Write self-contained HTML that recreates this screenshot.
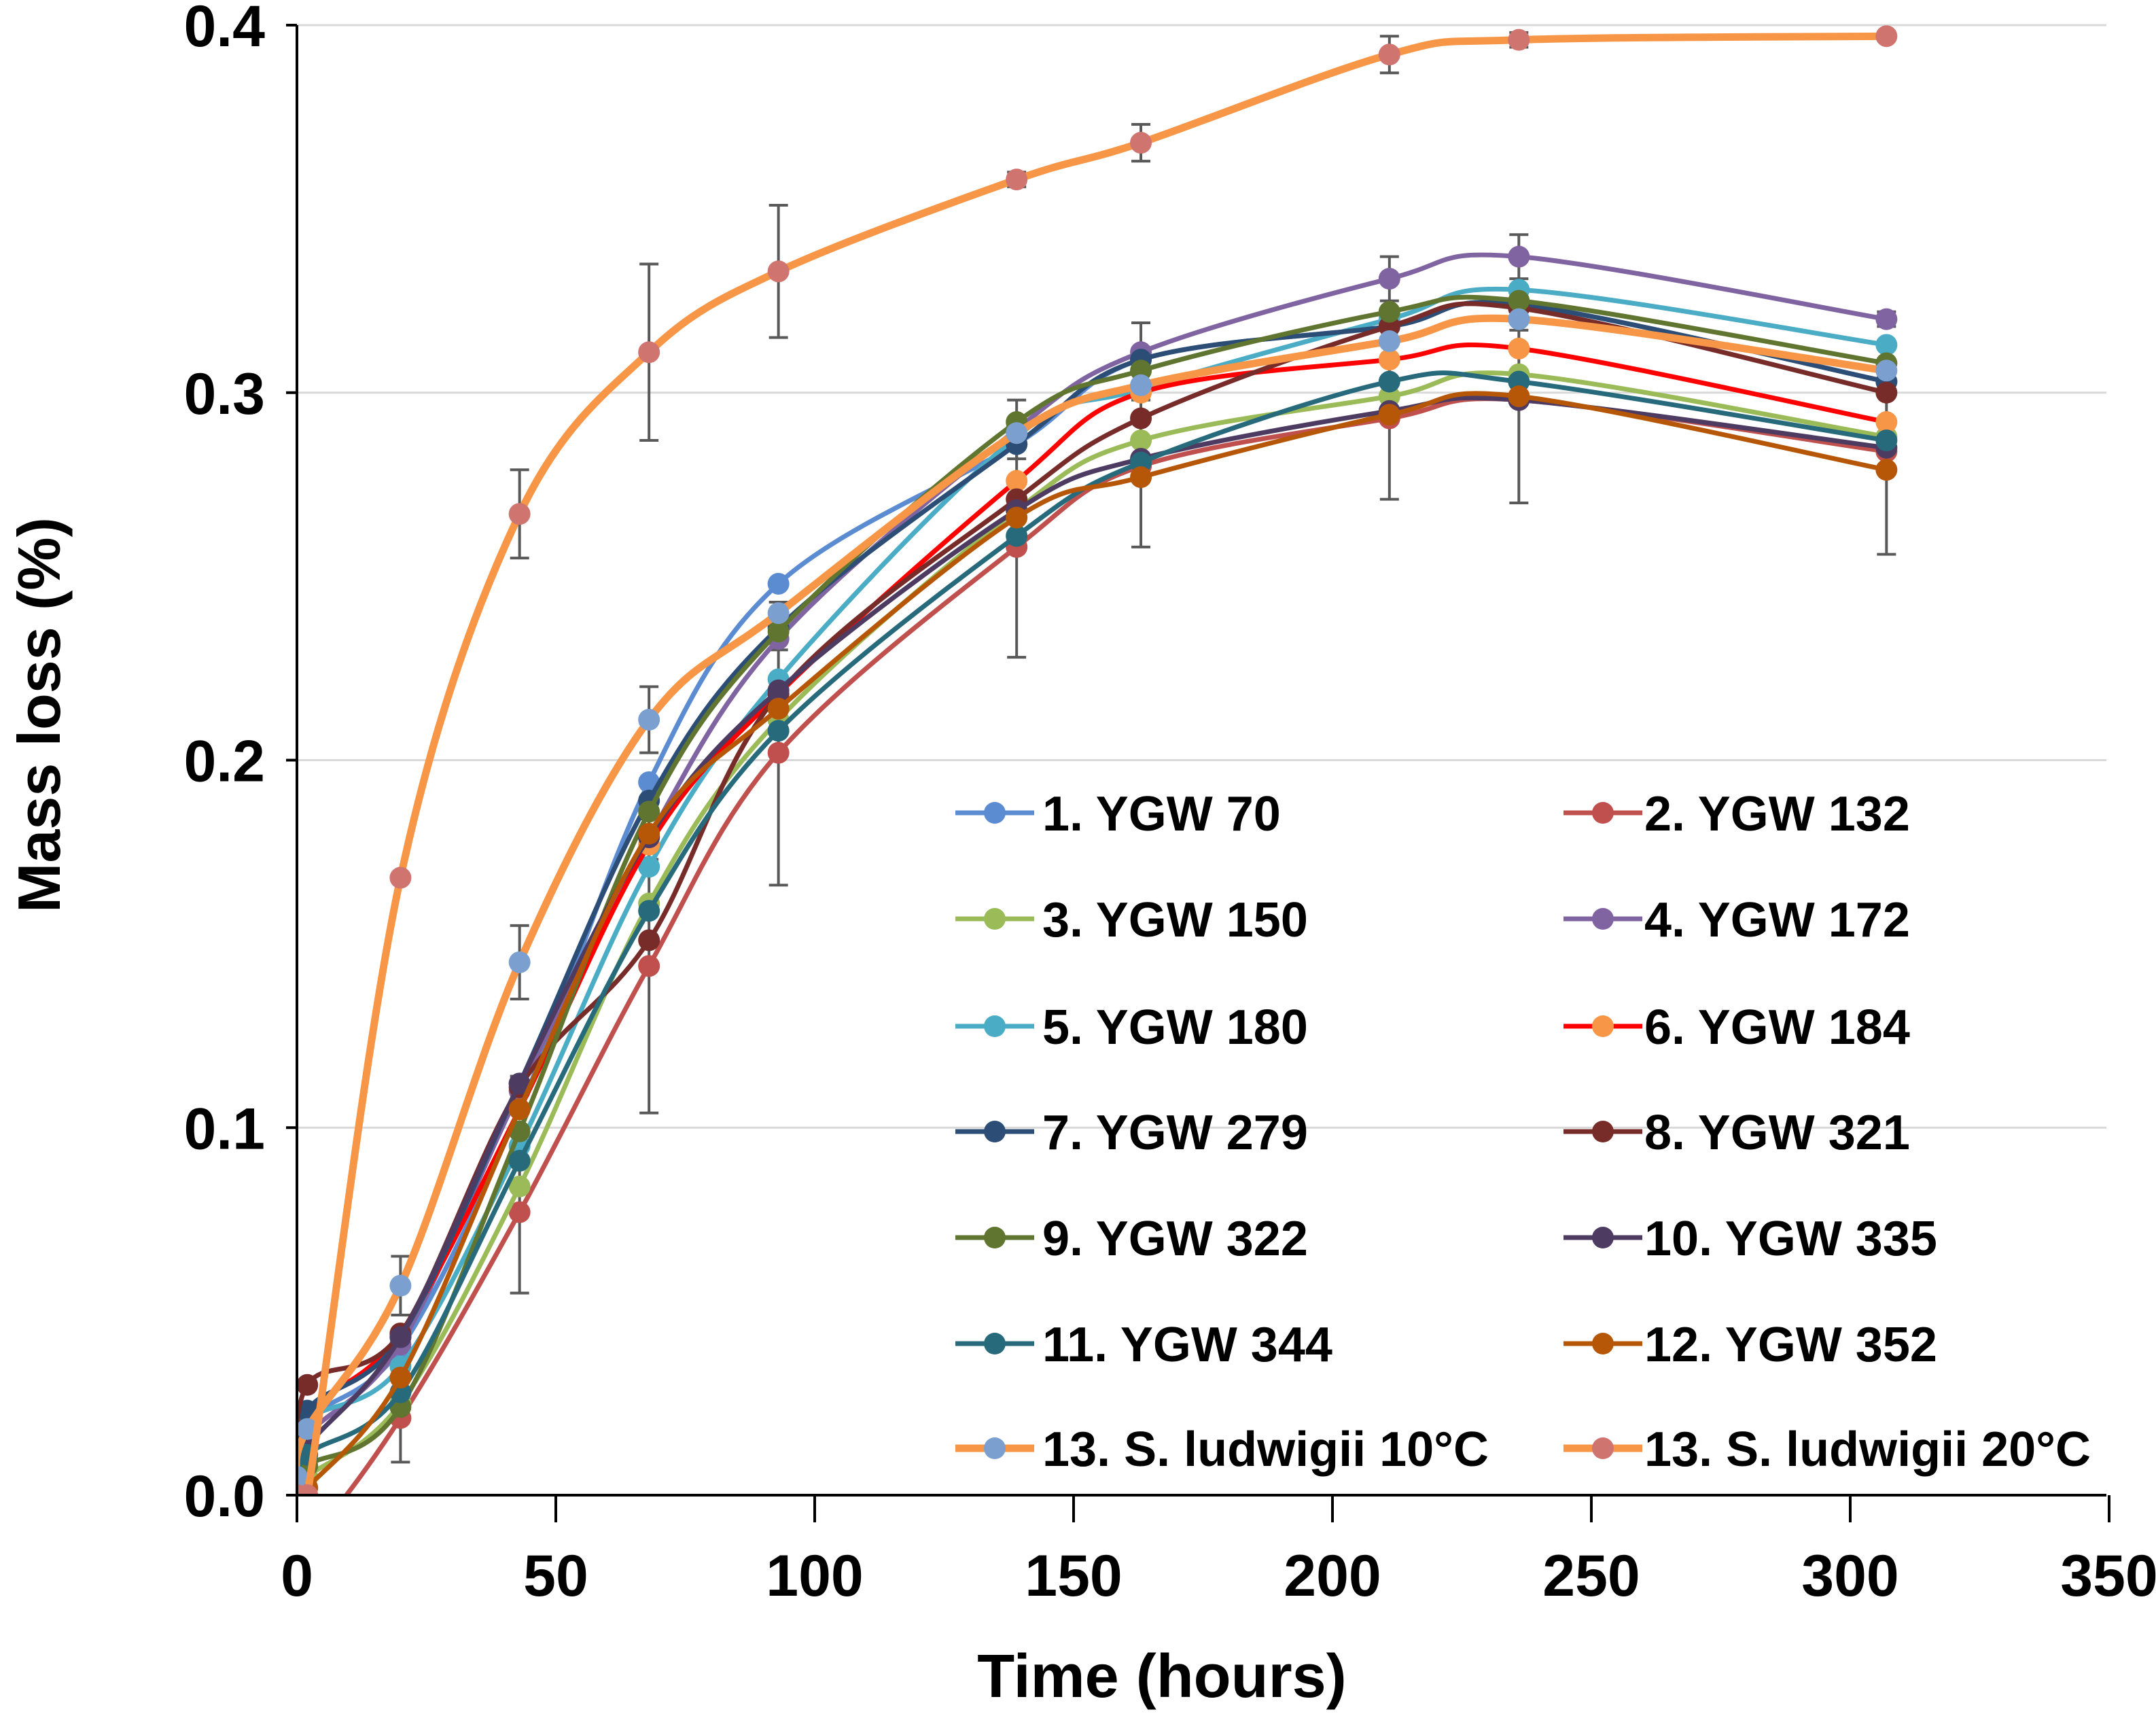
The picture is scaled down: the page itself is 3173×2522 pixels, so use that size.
<!DOCTYPE html>
<html><head><meta charset="utf-8"><style>
html,body{margin:0;padding:0;background:#fff}
svg{display:block;font-family:"Liberation Sans",Arial,sans-serif}
</style></head><body>
<svg id="chart" width="3173" height="2522" viewBox="0 0 3173 2522" xmlns="http://www.w3.org/2000/svg">
<defs><clipPath id="plotclip"><rect x="437" y="0" width="2700" height="2200"/></clipPath></defs>
<g id="grid"></g>
<g id="series" clip-path="url(#plotclip)"></g>
<g id="axes"></g>
<g id="legend"></g>
<text x="0" y="0" transform="translate(88,1052) rotate(-90)" text-anchor="middle" font-size="88" font-weight="bold">Mass loss (%)</text>
<text x="1710" y="2497" text-anchor="middle" font-size="90" font-weight="bold">Time (hours)</text>
</svg>
<script>
const times = [0, 2, 20, 43, 68, 93, 139, 163, 211, 236, 307];
const xTicks = [0, 50, 100, 150, 200, 250, 300, 350];
const yTicks = [0, 0.1, 0.2, 0.3, 0.4];
const yTickLabels = ["0.0", "0.1", "0.2", "0.3", "0.4"];
const seriesNames = ["1. YGW 70","2. YGW 132","3. YGW 150","4. YGW 172","5. YGW 180","6. YGW 184","7. YGW 279","8. YGW 321","9. YGW 322","10. YGW 335","11. YGW 344","12. YGW 352","13. S. ludwigii 10°C","13. S. ludwigii 20°C"];
const s1 = [0,0.020,0.040,0.105,0.194,0.248,0.286,0.309,0.318,0.324,0.303];
const s2 = [0,-0.012,0.021,0.077,0.144,0.202,0.258,0.280,0.293,0.298,0.284];
const s3 = [0,0.005,0.025,0.084,0.161,0.211,0.268,0.287,0.299,0.305,0.288];
const s4 = [0,0.016,0.041,0.110,0.179,0.233,0.290,0.311,0.331,0.337,0.320];
const s5 = [0,0.020,0.035,0.095,0.171,0.222,0.288,0.301,0.320,0.328,0.313];
const s6 = [0,0.022,0.044,0.105,0.177,0.218,0.276,0.300,0.309,0.312,0.292];
const s7 = [0,0.023,0.043,0.112,0.189,0.236,0.286,0.309,0.318,0.324,0.303];
const s8 = [0,0.030,0.044,0.111,0.151,0.218,0.271,0.293,0.318,0.323,0.300];
const s9 = [0,0.008,0.024,0.099,0.186,0.235,0.292,0.306,0.322,0.325,0.308];
const s10 = [0,0.013,0.043,0.112,0.179,0.219,0.268,0.282,0.295,0.298,0.285];
const s11 = [0,0.011,0.028,0.091,0.159,0.208,0.261,0.281,0.303,0.303,0.287];
const s12 = [0,0.002,0.032,0.105,0.180,0.214,0.266,0.277,0.294,0.299,0.279];
const s13a = [0.005,0.018,0.057,0.145,0.211,0.240,0.289,0.302,0.314,0.320,0.306];
const s13b = [0,0.0,0.168,0.267,0.311,0.333,0.358,0.368,0.392,0.396,0.397];
const err13b = [0,0,0,0.012,0.024,0.018,0.002,0.005,0.005,0.002,0.001];
const err13a = [0,0,0.008,0.010,0.009,0.003,0.004,0.004,0.004,0.003,0.003];
const err2 = [0,0,0.012,0.022,0.040,0.036,0.030,0.022,0.022,0.028,0.028];
const err4 = [0,0,0.004,0.004,0.006,0.003,0.008,0.008,0.006,0.006,0.002];

const allSeries = [s1,s2,s3,s4,s5,s6,s7,s8,s9,s10,s11,s12,s13a,s13b];
const lineColors = ["#5b8bd0","#c0504d","#9bbb59","#8064a2","#4bacc6","#ff0000","#2c4d75","#772c2a","#5f7530","#4d3b62","#276a7c","#b65708","#f79646","#f79646"];
const markerColors = ["#5b8bd0","#c0504d","#9bbb59","#8064a2","#4bacc6","#f79646","#2c4d75","#772c2a","#5f7530","#4d3b62","#276a7c","#b65708","#7ba0d0","#d07470"];
const lineWidths = [7,7,7,7,7,7,7,7,7,7,7,7,11,11];

const X0=437, X1=3104, Y0=2200, Y1=37;
function xs(t){return X0+(t-0)/(350-0)*(X1-X0);}
function ys(v){return Y0-(v-0)/(0.4-0)*(Y0-Y1);}
const NS="http://www.w3.org/2000/svg";
function mk(tag,attrs,parent){const e=document.createElementNS(NS,tag);for(const k in attrs)e.setAttribute(k,attrs[k]);parent.appendChild(e);return e;}

const grid=document.getElementById('grid');
yTicks.forEach((v,i)=>{ if(v>0){const l=mk('line',{x1:X0,x2:3100,y1:ys(v),y2:ys(v),stroke:'#d9d9d9','stroke-width':3},grid);

}});

const axes=document.getElementById('axes');
let a=mk('line',{x1:X0,x2:X0,y1:Y1,y2:Y0,stroke:'#000','stroke-width':4},axes);


a=mk('line',{x1:X0-16,x2:3100,y1:Y0,y2:Y0,stroke:'#000','stroke-width':4},axes);


yTicks.forEach((v,i)=>{
  const t=mk('line',{x1:X0-16,x2:X0,y1:ys(v),y2:ys(v),stroke:'#000','stroke-width':4},axes);
  
  
  const tx=mk('text',{x:390,y:ys(v)+31,'text-anchor':'end','font-size':86,'font-weight':'bold'},axes);
  tx.textContent=yTickLabels[i];
  
  
});
xTicks.forEach(v=>{
  const t=mk('line',{x1:xs(v),x2:xs(v),y1:Y0,y2:Y0+40,stroke:'#000','stroke-width':4},axes);
  
  
  const tx=mk('text',{x:xs(v),y:2348,'text-anchor':'middle','font-size':86,'font-weight':'bold'},axes);
  tx.textContent=String(v);
  
  
});

function smoothPath(pts){
  let d='M'+pts[0][0]+','+pts[0][1];
  for(let i=0;i<pts.length-1;i++){
    const p0=pts[i-1]||pts[i],p1=pts[i],p2=pts[i+1],p3=pts[i+2]||pts[i+1];
    const c1x=p1[0]+(p2[0]-p0[0])/6,c1y=p1[1]+(p2[1]-p0[1])/6;
    const c2x=p2[0]-(p3[0]-p1[0])/6,c2y=p2[1]-(p3[1]-p1[1])/6;
    d+=' C'+c1x+','+c1y+' '+c2x+','+c2y+' '+p2[0]+','+p2[1];
  }
  return d;
}
const sg=document.getElementById('series');
const errSets=[[13,err13b],[12,err13a],[1,err2],[3,err4]];
errSets.forEach(([si,errs])=>{
  const g=mk('g',{},sg);
  
  
  errs.forEach((e,i)=>{ if(e>0){const x=xs(times[i]),v=allSeries[si][i];
    mk('line',{x1:x,x2:x,y1:ys(v-e),y2:ys(v+e),stroke:'#595959','stroke-width':4},g);
    mk('line',{x1:x-14,x2:x+14,y1:ys(v-e),y2:ys(v-e),stroke:'#595959','stroke-width':4},g);
    mk('line',{x1:x-14,x2:x+14,y1:ys(v+e),y2:ys(v+e),stroke:'#595959','stroke-width':4},g);}});
});
allSeries.forEach((s,si)=>{
  const g=mk('g',{},sg);
  
  
  const pts=s.map((v,i)=>[xs(times[i]),ys(v)]);
  const p=mk('path',{d:smoothPath(pts),fill:'none',stroke:lineColors[si],'stroke-width':lineWidths[si],'stroke-linejoin':'round'},g);
  
  
  pts.forEach(pt=>{const c=mk('circle',{cx:pt[0],cy:pt[1],r:16,fill:markerColors[si]},g);
    
    });
});

const lg=document.getElementById('legend');
const rowsY=[1196,1352,1510,1665,1821,1977,2131];
seriesNames.forEach((n,i)=>{
  const col=i%2,row=Math.floor(i/2);
  const lx=col===0?1406:2301, tx=col===0?1534:2420, y=rowsY[row];
  const g=mk('g',{},lg);
  
  
  mk('line',{x1:lx,x2:lx+116,y1:y,y2:y,stroke:lineColors[i],'stroke-width':lineWidths[i]},g);
  mk('circle',{cx:lx+58,cy:y,r:16,fill:markerColors[i]},g);
  const t=mk('text',{x:tx,y:y+26,'font-size':72,'font-weight':'bold'},g);
  t.textContent=n;
});
</script>
</body></html>
